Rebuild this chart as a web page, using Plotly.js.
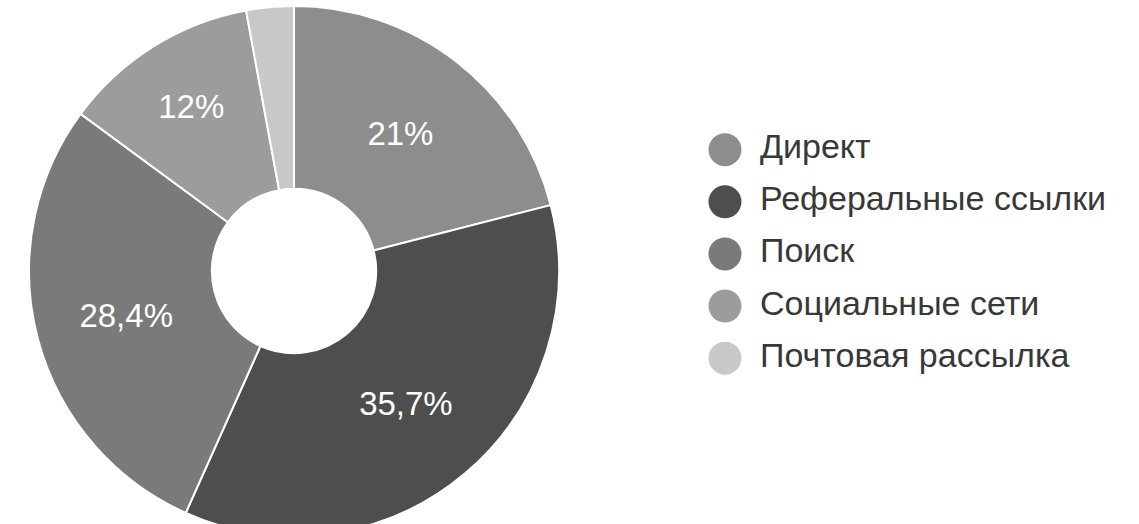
<!DOCTYPE html>
<html>
<head>
<meta charset="utf-8">
<script src="https://cdn.plot.ly/plotly-3.0.1.min.js"></script>
<style>
  html, body { margin: 0; padding: 0; overflow: hidden; background: #fff; }
  #chart { width: 1139px; height: 538px; }
</style>
</head>
<body>
<div id="chart"></div>
<script>
// Data
var categories = ["Директ", "Реферальные ссылки", "Поиск", "Социальные сети", "Почтовая рассылка"];
var shares = [21, 35.7, 28.4, 12, 2.9];
var sliceLabels = ["21%", "35,7%", "28,4%", "12%", ""];
var sliceColors = ["#8d8d8d", "#4e4e4e", "#7a7a7a", "#9c9c9c", "#c8c8c8"];

var FONT = "Arial, 'Liberation Sans', sans-serif";

var pie = {
  type: "pie",
  labels: categories,
  values: shares,
  text: sliceLabels,
  textinfo: "text",
  textposition: "inside",
  insidetextorientation: "horizontal",
  insidetextfont: { family: FONT, size: 33, color: "#ffffff" },
  sort: false,
  direction: "clockwise",
  rotation: 0,
  hole: 0.31,
  marker: { colors: sliceColors, line: { color: "#ffffff", width: 2 } },
  domain: { x: [0.0255, 0.4908], y: [0, 1] },
  showlegend: false,
  hoverinfo: "none"
};

// Legend drawn as markers + text on a hidden category axis
var legendMarkers = {
  type: "scatter",
  mode: "markers",
  x: categories.map(function () { return 0; }),
  y: categories,
  xaxis: "x2",
  yaxis: "y2",
  marker: { size: 33, color: sliceColors, symbol: "circle" },
  cliponaxis: false,
  showlegend: false,
  hoverinfo: "none"
};
var legendText = {
  type: "scatter",
  mode: "text",
  x: categories.map(function () { return 1; }),
  y: categories,
  xaxis: "x2",
  yaxis: "y2",
  text: categories,
  textposition: "middle right",
  textfont: { family: FONT, size: 34, color: "#383838" },
  cliponaxis: false,
  showlegend: false,
  hoverinfo: "none"
};

var layout = {
  width: 1139,
  height: 538,
  margin: { l: 0, r: 0, t: 4, b: 0 },
  paper_bgcolor: "#ffffff",
  plot_bgcolor: "rgba(0,0,0,0)",
  showlegend: false,
  xaxis2: { domain: [0.6365, 1], range: [0, 11.83], visible: false, fixedrange: true },
  yaxis2: { domain: [0.288, 0.776], range: [4.5, -0.5], type: "category",
            categoryorder: "array", categoryarray: categories, visible: false, fixedrange: true, anchor: "x2" },
  xaxis: { visible: false },
  yaxis: { visible: false }
};

Plotly.newPlot("chart", [pie, legendMarkers, legendText], layout, { displayModeBar: false, staticPlot: true });
</script>
</body>
</html>
